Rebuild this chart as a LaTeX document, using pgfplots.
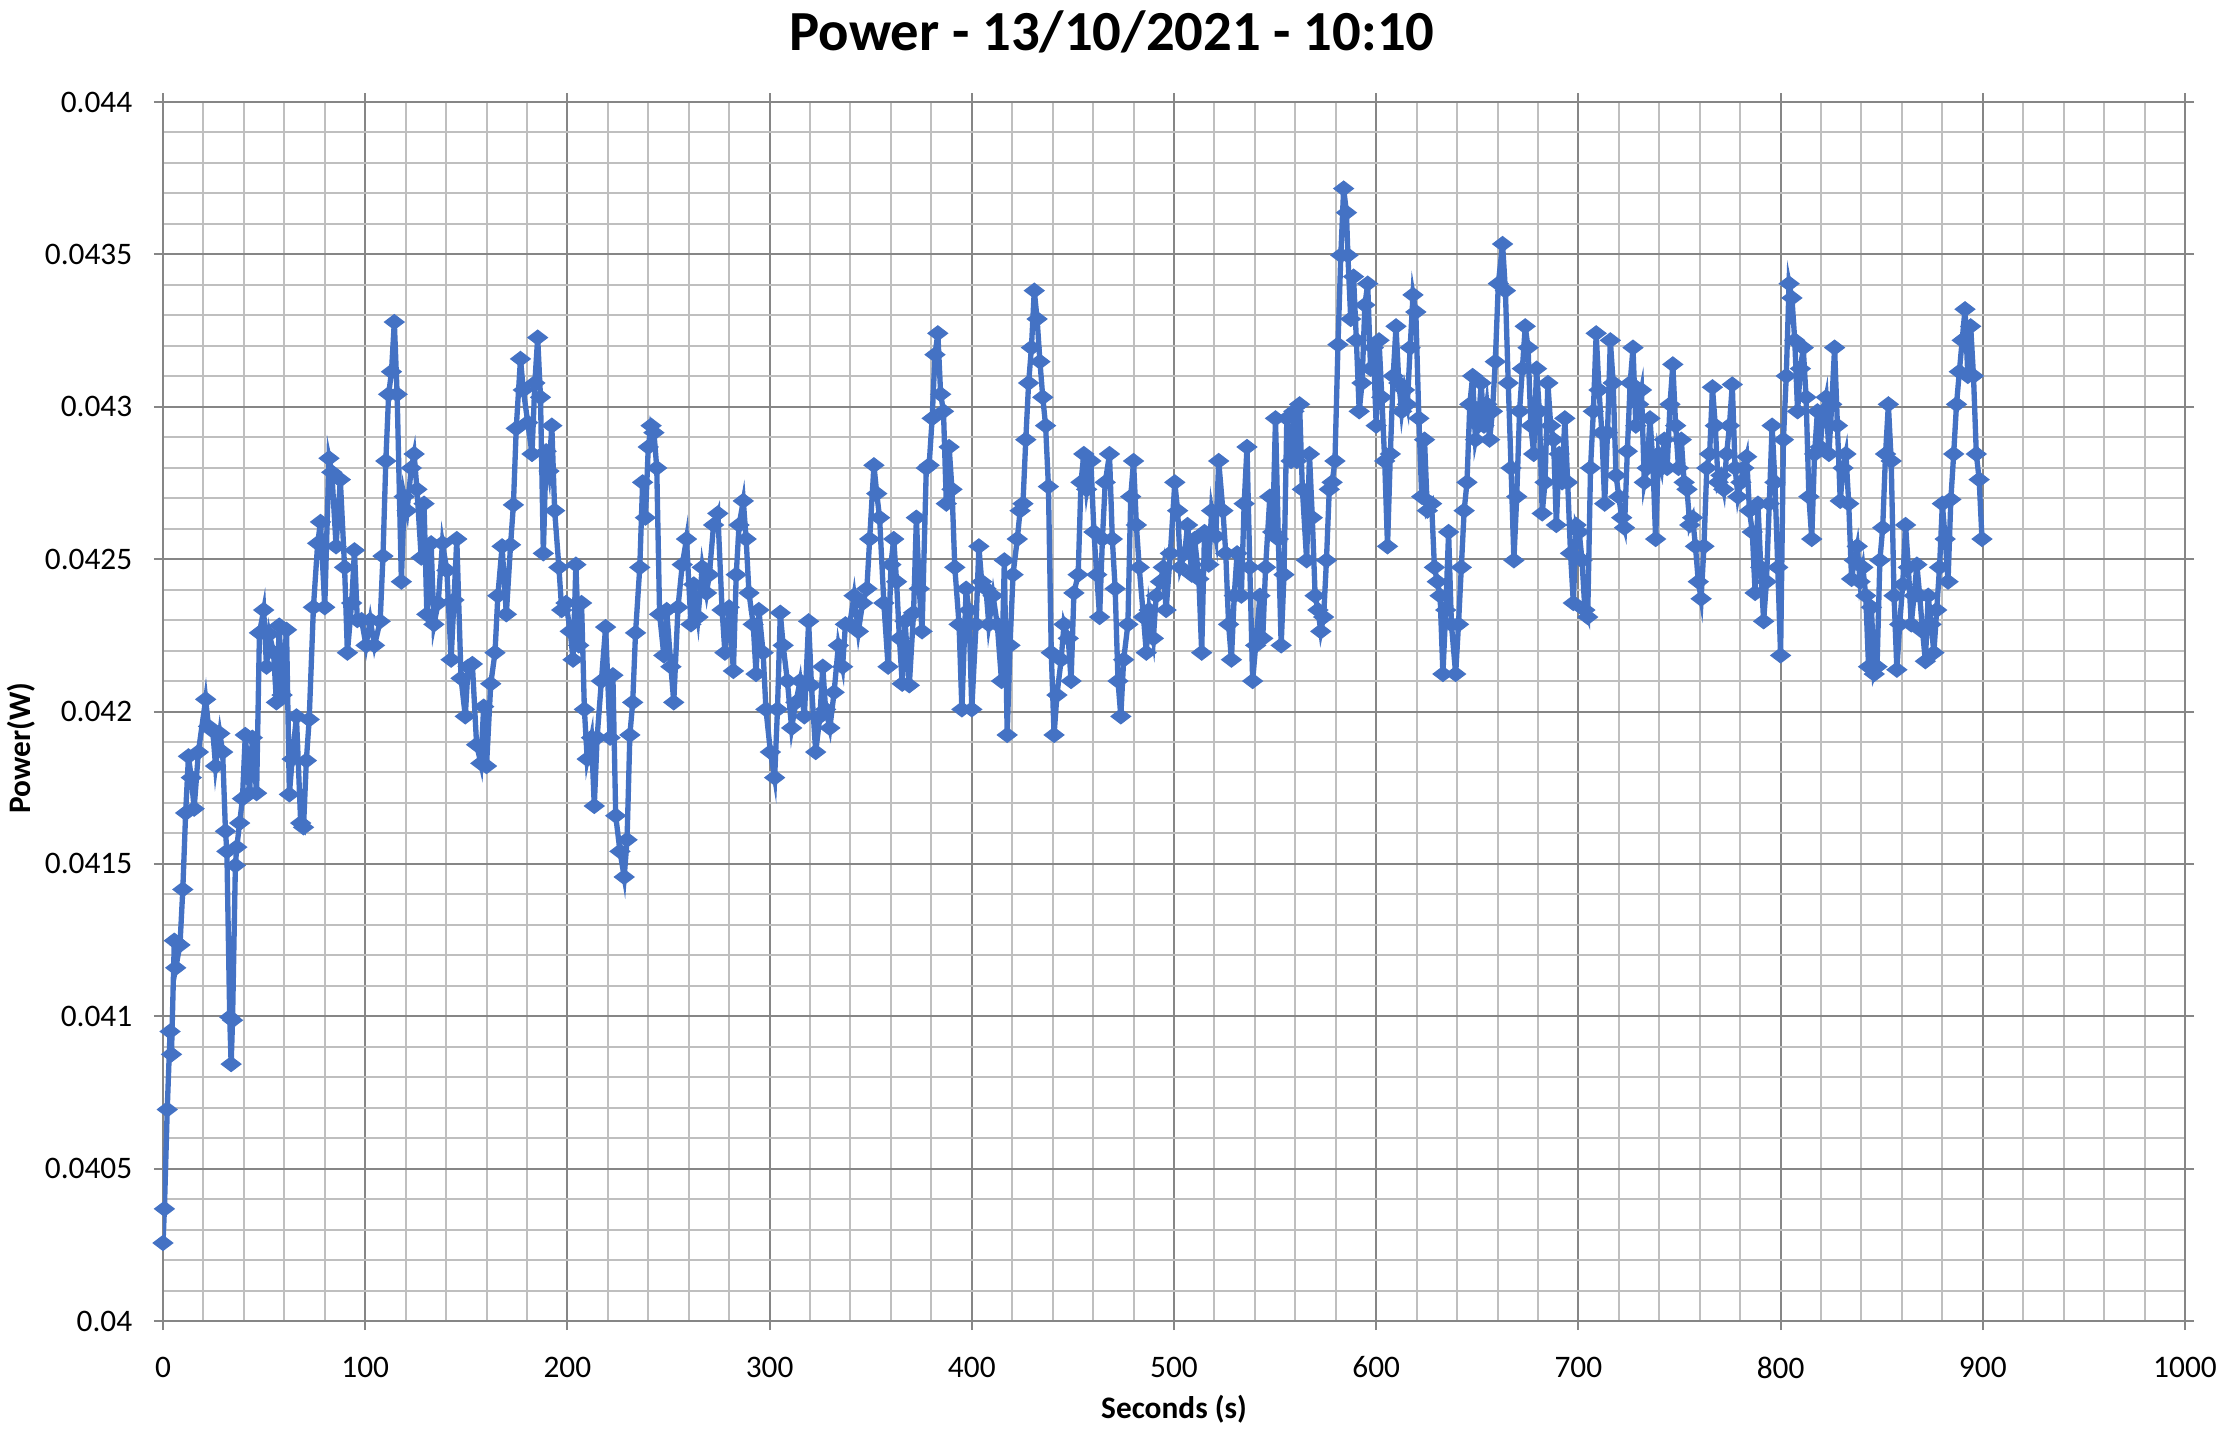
\documentclass[border=0pt]{standalone}
\usepackage{pgfplots}
\pgfplotsset{compat=1.18}
\usepackage{pgfplotstable}
\usepackage{fontspec}
\setmainfont{Carlito}
\definecolor{exblue}{RGB}{68,114,196}
\definecolor{majgrid}{RGB}{134,134,134}
\definecolor{mingrid}{RGB}{191,191,191}
\pgfplotstableread{
t v
0.0 0.040256
0.7 0.040368
2.1 0.040694
3.5 0.040950
4.2 0.040875
5.6 0.041248
6.3 0.041159
8.4 0.041234
9.8 0.041416
11.2 0.041667
12.6 0.041853
14.0 0.041783
15.4 0.041681
17.5 0.041867
21.1 0.042040
22.5 0.041951
24.6 0.041937
26.0 0.041821
28.1 0.041928
29.5 0.041867
30.9 0.041607
31.6 0.041541
33.0 0.040997
33.7 0.040843
34.4 0.040987
35.8 0.041495
36.5 0.041555
37.9 0.041634
39.3 0.041714
40.7 0.041923
42.8 0.041732
44.2 0.041914
46.3 0.041732
47.7 0.042258
49.8 0.042333
51.2 0.042147
52.6 0.042254
54.7 0.042193
56.1 0.042030
57.5 0.042282
58.9 0.042054
61.1 0.042268
62.5 0.041728
63.9 0.041844
66.0 0.041984
68.1 0.041634
69.5 0.041620
70.9 0.041839
72.3 0.041974
74.4 0.042342
76.5 0.042552
77.9 0.042622
80.0 0.042342
82.1 0.042831
83.5 0.042785
85.6 0.042542
87.7 0.042761
89.8 0.042473
91.2 0.042193
93.3 0.042356
94.7 0.042529
96.1 0.042300
98.2 0.042300
100.4 0.042217
102.5 0.042300
104.6 0.042217
107.4 0.042296
108.8 0.042510
110.2 0.042822
111.6 0.043041
113.0 0.043115
114.4 0.043278
115.8 0.043041
117.9 0.042426
119.3 0.042705
120.7 0.042659
122.8 0.042799
124.2 0.042845
125.6 0.042729
127.7 0.042505
129.1 0.042682
130.5 0.042319
132.6 0.042552
134.0 0.042286
136.1 0.042356
138.2 0.042552
140.4 0.042463
142.5 0.042170
143.9 0.042366
145.3 0.042566
147.4 0.042109
149.5 0.041984
150.9 0.042147
153.0 0.042156
155.1 0.041891
157.2 0.041830
158.6 0.042016
160.0 0.041821
162.1 0.042091
164.2 0.042193
165.6 0.042380
167.7 0.042542
169.8 0.042319
171.9 0.042547
173.3 0.042678
174.7 0.042929
176.8 0.043157
178.2 0.043055
180.4 0.042948
182.5 0.042845
183.9 0.043078
185.3 0.043227
186.7 0.043031
188.1 0.042519
189.5 0.042854
190.9 0.042789
192.3 0.042938
193.7 0.042659
195.8 0.042473
197.2 0.042333
199.3 0.042356
201.4 0.042263
202.8 0.042170
204.2 0.042482
205.6 0.042217
207.0 0.042356
208.4 0.042007
209.8 0.041844
211.9 0.041914
213.3 0.041690
214.7 0.041914
216.8 0.042100
218.9 0.042277
221.1 0.041914
222.5 0.042119
223.9 0.041658
226.0 0.041541
228.1 0.041457
229.5 0.041579
230.9 0.041923
232.3 0.042030
233.7 0.042258
235.8 0.042473
237.2 0.042752
238.6 0.042636
240.0 0.042868
241.4 0.042938
242.8 0.042915
244.2 0.042799
245.6 0.042319
247.7 0.042184
249.1 0.042333
251.2 0.042147
252.6 0.042030
254.7 0.042342
256.8 0.042482
258.9 0.042566
261.1 0.042286
262.5 0.042417
264.6 0.042310
266.7 0.042473
268.8 0.042389
270.2 0.042449
272.3 0.042612
274.4 0.042650
276.5 0.042333
277.9 0.042193
280.0 0.042342
282.1 0.042133
283.5 0.042449
284.9 0.042612
287.0 0.042691
288.4 0.042566
289.8 0.042389
291.9 0.042286
293.3 0.042123
294.7 0.042333
296.8 0.042193
298.2 0.042007
300.4 0.041867
302.5 0.041783
303.9 0.042007
305.3 0.042324
306.7 0.042217
308.8 0.042100
310.9 0.041946
313.0 0.042030
315.1 0.042100
317.2 0.041984
319.3 0.042296
320.7 0.042086
322.8 0.041867
324.9 0.041984
326.3 0.042147
327.7 0.042007
329.8 0.041946
331.9 0.042063
334.0 0.042217
336.1 0.042147
337.5 0.042286
339.6 0.042286
341.8 0.042380
343.9 0.042263
346.0 0.042356
348.1 0.042403
349.5 0.042566
351.6 0.042808
353.0 0.042715
354.4 0.042636
356.5 0.042356
358.6 0.042147
360.0 0.042482
361.4 0.042566
362.8 0.042426
364.2 0.042240
365.6 0.042091
367.0 0.042296
369.1 0.042086
371.2 0.042324
372.6 0.042636
374.0 0.042403
375.4 0.042263
377.5 0.042799
378.9 0.042808
380.4 0.042962
381.8 0.043171
383.2 0.043241
384.6 0.043041
386.0 0.042985
387.4 0.042682
388.8 0.042868
390.2 0.042729
391.6 0.042473
393.7 0.042286
395.1 0.042007
397.2 0.042403
398.6 0.042333
400.0 0.042007
402.1 0.042286
403.5 0.042542
404.9 0.042426
407.0 0.042403
408.4 0.042286
410.5 0.042380
412.6 0.042286
414.7 0.042100
416.1 0.042496
417.5 0.041923
418.9 0.042217
420.4 0.042449
422.5 0.042566
423.9 0.042659
425.3 0.042682
426.7 0.042892
428.1 0.043078
429.5 0.043194
430.9 0.043381
432.3 0.043288
433.7 0.043148
435.1 0.043031
436.5 0.042938
437.9 0.042738
439.3 0.042193
440.7 0.041923
442.1 0.042054
444.2 0.042170
445.6 0.042286
447.7 0.042240
449.1 0.042100
450.5 0.042389
452.6 0.042449
454.0 0.042752
455.4 0.042845
456.8 0.042729
458.9 0.042822
460.4 0.042589
461.8 0.042449
463.2 0.042310
464.6 0.042566
466.0 0.042752
468.1 0.042845
469.5 0.042566
470.9 0.042403
472.3 0.042100
473.7 0.041984
475.1 0.042170
477.2 0.042286
478.6 0.042705
480.0 0.042822
481.4 0.042612
482.8 0.042473
484.9 0.042310
486.3 0.042193
487.7 0.042333
489.8 0.042240
491.2 0.042380
493.3 0.042426
494.7 0.042473
496.1 0.042333
498.2 0.042519
500.4 0.042752
501.8 0.042659
503.2 0.042473
505.3 0.042519
506.7 0.042612
508.8 0.042449
510.2 0.042566
512.3 0.042435
513.7 0.042193
515.1 0.042589
517.2 0.042482
518.6 0.042659
520.7 0.042575
522.1 0.042822
524.2 0.042659
525.6 0.042519
527.0 0.042286
528.4 0.042170
529.8 0.042380
531.2 0.042519
533.3 0.042380
534.7 0.042682
536.1 0.042868
537.5 0.042473
538.9 0.042100
540.4 0.042217
542.5 0.042380
543.9 0.042240
545.3 0.042473
547.4 0.042705
548.8 0.042589
550.2 0.042962
551.6 0.042566
553.0 0.042217
554.4 0.042449
555.8 0.042962
557.9 0.042822
559.3 0.042985
560.7 0.042822
562.1 0.043008
563.5 0.042729
565.6 0.042496
567.0 0.042845
568.4 0.042636
569.8 0.042380
571.2 0.042333
572.6 0.042263
574.0 0.042310
575.4 0.042496
576.8 0.042729
578.2 0.042752
579.6 0.042822
581.1 0.043204
582.5 0.043497
583.9 0.043716
585.3 0.043637
586.0 0.043497
587.4 0.043288
588.8 0.043427
590.2 0.043218
591.6 0.042985
593.0 0.043078
594.4 0.043334
595.8 0.043404
597.2 0.043125
598.6 0.043194
600.0 0.042938
601.4 0.043218
602.8 0.043031
604.2 0.042822
605.6 0.042542
607.0 0.042845
608.4 0.043101
609.8 0.043264
611.2 0.043078
612.6 0.042985
614.0 0.043055
615.4 0.043008
616.8 0.043194
618.2 0.043367
619.6 0.043311
621.1 0.042962
622.5 0.042705
623.9 0.042892
625.3 0.042659
627.4 0.042682
628.8 0.042473
630.2 0.042426
631.6 0.042380
633.0 0.042123
634.4 0.042333
635.8 0.042589
637.2 0.042286
639.3 0.042123
640.7 0.042286
642.1 0.042473
643.5 0.042659
644.9 0.042752
646.3 0.043008
647.7 0.043101
649.1 0.042892
650.5 0.042938
651.9 0.043078
653.3 0.042938
654.7 0.043008
656.1 0.042892
657.5 0.042985
658.9 0.043148
660.4 0.043404
662.5 0.043534
663.9 0.043381
665.3 0.043078
666.7 0.042799
668.1 0.042496
669.5 0.042705
670.9 0.042985
672.3 0.043125
673.7 0.043264
675.1 0.043194
676.5 0.042938
677.9 0.042845
679.3 0.043125
680.7 0.042985
682.1 0.042650
683.5 0.042752
684.9 0.043078
686.3 0.042938
687.7 0.042892
689.1 0.042612
690.5 0.042845
691.9 0.042752
693.3 0.042962
694.7 0.042752
696.1 0.042519
697.5 0.042356
698.9 0.042612
700.4 0.042589
701.8 0.042496
703.2 0.042333
704.6 0.042310
706.0 0.042799
707.4 0.042985
708.8 0.043241
710.2 0.043055
711.6 0.042915
713.0 0.042682
714.4 0.042915
715.8 0.043218
717.2 0.043078
718.6 0.042775
720.0 0.042705
721.4 0.042636
722.8 0.042603
724.2 0.042854
725.6 0.043078
727.0 0.043194
728.4 0.042938
729.8 0.043008
731.2 0.043055
732.6 0.042752
734.0 0.042799
735.4 0.042962
736.8 0.042822
738.2 0.042566
739.6 0.042845
741.1 0.042799
742.5 0.042892
743.9 0.042799
745.3 0.043008
746.7 0.043139
748.1 0.042938
749.5 0.042799
750.9 0.042892
752.3 0.042752
753.7 0.042729
755.1 0.042612
756.5 0.042636
757.9 0.042542
759.3 0.042426
760.7 0.042370
762.1 0.042542
763.5 0.042799
764.9 0.042845
766.3 0.043064
767.7 0.042938
769.1 0.042752
770.5 0.042775
771.9 0.042729
773.3 0.042845
774.7 0.042938
776.1 0.043073
777.5 0.042799
778.9 0.042705
780.4 0.042752
781.8 0.042799
783.2 0.042836
784.6 0.042659
786.0 0.042589
787.4 0.042389
788.8 0.042682
790.2 0.042473
791.6 0.042296
793.0 0.042426
794.4 0.042682
795.8 0.042938
797.2 0.042752
798.6 0.042473
800.0 0.042184
801.4 0.042892
802.8 0.043101
804.2 0.043404
805.6 0.043357
807.0 0.043218
808.4 0.042985
809.8 0.043125
811.2 0.043194
812.6 0.043031
814.0 0.042705
815.4 0.042566
816.8 0.042845
818.2 0.042985
819.6 0.042868
821.1 0.042985
822.5 0.043031
823.9 0.042845
825.3 0.043008
826.7 0.043194
828.1 0.042938
829.5 0.042691
830.9 0.042799
832.3 0.042845
833.7 0.042682
835.1 0.042435
836.5 0.042496
837.9 0.042542
839.3 0.042426
840.7 0.042473
842.1 0.042380
843.5 0.042147
844.9 0.042342
846.3 0.042123
847.7 0.042147
849.1 0.042496
850.5 0.042603
851.9 0.042845
853.3 0.043008
854.7 0.042822
856.1 0.042380
857.5 0.042137
858.9 0.042286
860.4 0.042417
861.8 0.042612
863.2 0.042473
864.6 0.042286
866.0 0.042380
867.4 0.042482
868.8 0.042380
870.2 0.042263
871.6 0.042165
873.0 0.042380
874.4 0.042286
875.8 0.042193
877.2 0.042333
878.6 0.042473
880.0 0.042682
881.4 0.042566
882.8 0.042426
884.2 0.042696
885.6 0.042845
887.0 0.043008
888.4 0.043115
889.8 0.043218
891.2 0.043320
892.6 0.043101
894.0 0.043264
895.4 0.043101
896.8 0.042845
898.2 0.042761
899.6 0.042566
}\powerdata
\begin{document}
\begin{tikzpicture}
\path[use as bounding box] (-48.9pt,-33.3pt) rectangle (618.6pt,396.3pt);
\begin{axis}[
  at={(0pt,0pt)}, anchor=south west,
  scale only axis, width=606.6pt, height=365.7pt,
  xmin=0, xmax=1000, ymin=0.04, ymax=0.044,
  xtick={0,100,...,1000},
  ytick={0.04,0.0405,0.041,0.0415,0.042,0.0425,0.043,0.0435,0.044},
  yticklabels={0.04,0.0405,0.041,0.0415,0.042,0.0425,0.043,0.0435,0.044},
  minor x tick num=4, minor y tick num=4,
  grid=both,
  major grid style={draw=majgrid, line width=0.6pt},
  minor grid style={draw=mingrid, line width=0.6pt},
  axis line style={draw=majgrid, line width=0.6pt},
  tick align=outside, major tick length=2.7pt, minor tick length=0pt,
  tick style={draw=majgrid, line width=0.6pt},
  ticklabel style={font=\fontsize{9.4}{11}\selectfont, text=black},
  xticklabel style={yshift=-4.5pt},
  yticklabel style={xshift=-3pt},
  /pgf/number format/assume math mode=true,
  /pgf/number format/1000 sep={},
  scaled y ticks=false,
  xlabel={Seconds (s)}, ylabel={Power(W)},
  label style={font=\fontsize{9.4}{11}\selectfont\bfseries},
  xlabel style={at={(axis description cs:0.5,-0.0722)}, anchor=center},
  ylabel style={at={(axis description cs:-0.0702,0.47)}, anchor=center},
  title={Power - 13/10/2021 - 10:10},
  title style={font=\fontsize{17}{20}\selectfont\bfseries, at={(axis description cs:0.4693,1.041)}, anchor=center, yshift=0pt},
]
\addplot[exblue, line width=1.6pt, mark=diamond*, mark size=2.2pt,
  mark options={xscale=1.75, solid, fill=exblue, draw=exblue, line width=0.4pt}]
  table[x=t, y=v] {\powerdata};
\end{axis}
\end{tikzpicture}
\end{document}
